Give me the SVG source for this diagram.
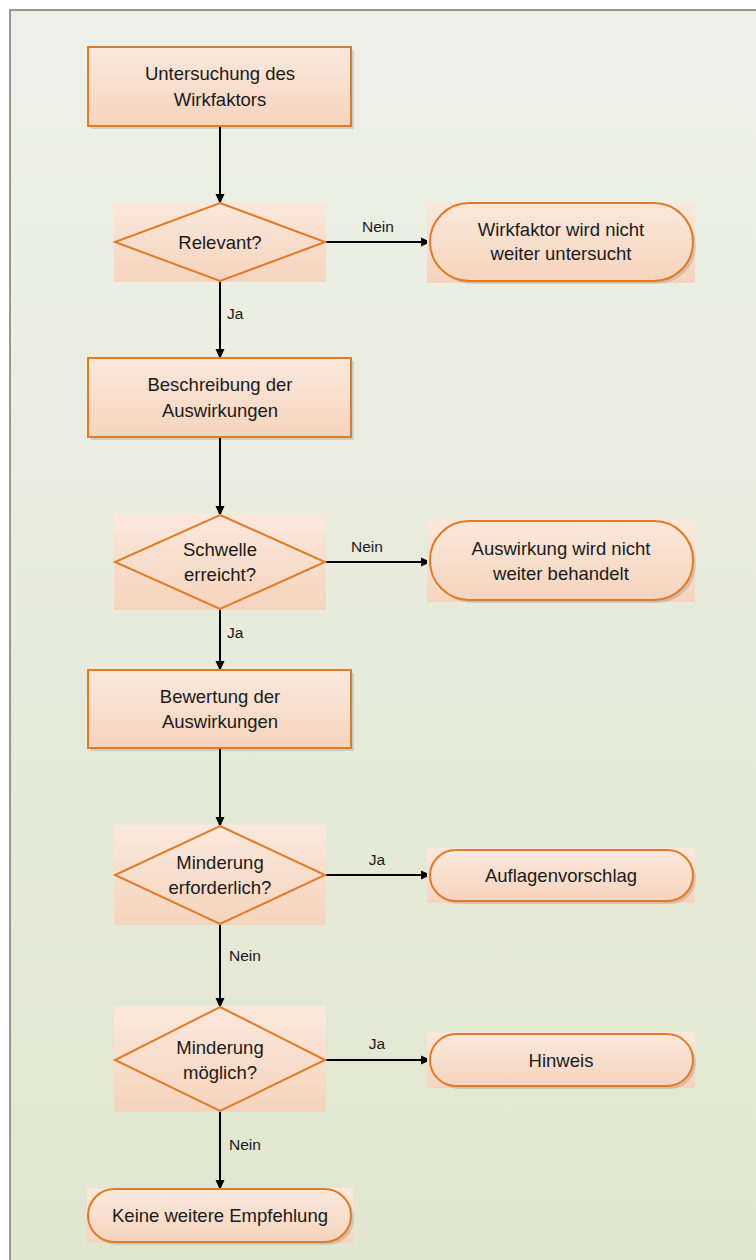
<svg xmlns="http://www.w3.org/2000/svg" width="756" height="1260" viewBox="0 0 756 1260">
<defs>
<linearGradient id="bg" x1="0" y1="0" x2="0" y2="1">
<stop offset="0" stop-color="#eef0e7"/>
<stop offset="1" stop-color="#e1e6cf"/>
</linearGradient>
<linearGradient id="nf" x1="0" y1="0" x2="0" y2="1">
<stop offset="0" stop-color="#fbe8dc"/>
<stop offset="1" stop-color="#f5d4bd"/>
</linearGradient>
<marker id="arr" markerWidth="10" markerHeight="10" refX="9" refY="5" orient="auto" markerUnits="userSpaceOnUse">
<path d="M0,0.5 L10,5 L0,9.5 Z" fill="#000"/>
</marker>
<style>
.bx{fill:url(#nf);stroke:#e07b28;stroke-width:2}
.bgf{fill:url(#nf)}
.dm{fill:none;stroke:#e07b28;stroke-width:2}
.sh{fill:#000;opacity:0.12}
.t{font-family:"Liberation Sans",Arial,sans-serif;font-size:18.5px;fill:#1a1a1a;text-anchor:middle}
.l{font-family:"Liberation Sans",Arial,sans-serif;font-size:15.5px;fill:#1a1a1a}
.c{stroke:#000;stroke-width:2;fill:none;marker-end:url(#arr)}
</style>
</defs>
<rect x="10" y="10" width="760" height="1260" fill="url(#bg)" stroke="#7a7a74" stroke-width="1.5"/>

<g id="connectors">
<line class="c" x1="220" y1="126" x2="220" y2="203"/>
<line class="c" x1="326" y1="242" x2="430" y2="242"/>
<line class="c" x1="220" y1="281" x2="220" y2="358"/>
<line class="c" x1="220" y1="437" x2="220" y2="515"/>
<line class="c" x1="326" y1="562" x2="430" y2="562"/>
<line class="c" x1="220" y1="609" x2="220" y2="670"/>
<line class="c" x1="220" y1="748" x2="220" y2="826"/>
<line class="c" x1="326" y1="875" x2="430" y2="875"/>
<line class="c" x1="220" y1="924" x2="220" y2="1007"/>
<line class="c" x1="326" y1="1060" x2="430" y2="1060"/>
<line class="c" x1="220" y1="1111" x2="220" y2="1189"/>
<text class="l" x="378" y="232" text-anchor="middle">Nein</text>
<text class="l" x="227" y="319">Ja</text>
<text class="l" x="367" y="552" text-anchor="middle">Nein</text>
<text class="l" x="227" y="638">Ja</text>
<text class="l" x="377" y="865" text-anchor="middle">Ja</text>
<text class="l" x="229" y="961">Nein</text>
<text class="l" x="377" y="1049" text-anchor="middle">Ja</text>
<text class="l" x="229" y="1150">Nein</text>
</g>

<g id="n1">
<rect class="sh" x="91" y="50" width="263" height="79"/>
<rect class="bx" x="88" y="47" width="263" height="79"/>
<text class="t" x="220" y="80">Untersuchung des</text>
<text class="t" x="220" y="106">Wirkfaktors</text>
</g>

<g id="d1">
<rect class="bgf" x="114" y="202" width="212" height="80"/>
<polygon class="dm" points="220,203 325,242 220,281 115,242"/>
<text class="t" x="220" y="248.5">Relevant?</text>
</g>

<g id="t1">
<rect class="bgf" x="427" y="202" width="268" height="81"/>
<rect class="sh" x="433" y="206" width="263" height="78" rx="39"/>
<rect class="bx" x="430" y="203" width="263" height="78" rx="39"/>
<text class="t" x="561" y="236">Wirkfaktor wird nicht</text>
<text class="t" x="561" y="260">weiter untersucht</text>
</g>

<g id="n2">
<rect class="sh" x="91" y="361" width="263" height="79"/>
<rect class="bx" x="88" y="358" width="263" height="79"/>
<text class="t" x="220" y="391">Beschreibung der</text>
<text class="t" x="220" y="417">Auswirkungen</text>
</g>

<g id="d2">
<rect class="bgf" x="114" y="514" width="212" height="96"/>
<polygon class="dm" points="220,515 325,562 220,609 115,562"/>
<text class="t" x="220" y="556">Schwelle</text>
<text class="t" x="220" y="581">erreicht?</text>
</g>

<g id="t2">
<rect class="bgf" x="427" y="519" width="268" height="83"/>
<rect class="sh" x="433" y="524" width="263" height="79" rx="39"/>
<rect class="bx" x="430" y="521" width="263" height="79" rx="39"/>
<text class="t" x="561" y="555">Auswirkung wird nicht</text>
<text class="t" x="561" y="580">weiter behandelt</text>
</g>

<g id="n3">
<rect class="sh" x="91" y="673" width="263" height="78"/>
<rect class="bx" x="88" y="670" width="263" height="78"/>
<text class="t" x="220" y="703">Bewertung der</text>
<text class="t" x="220" y="728">Auswirkungen</text>
</g>

<g id="d3">
<rect class="bgf" x="114" y="825" width="212" height="100"/>
<polygon class="dm" points="220,826 325,875 220,924 115,875"/>
<text class="t" x="220" y="868.5">Minderung</text>
<text class="t" x="220" y="894">erforderlich?</text>
</g>

<g id="t3">
<rect class="bgf" x="427" y="848" width="268" height="55"/>
<rect class="sh" x="433" y="853" width="263" height="51" rx="25.5"/>
<rect class="bx" x="430" y="850" width="263" height="51" rx="25.5"/>
<text class="t" x="561" y="882">Auflagenvorschlag</text>
</g>

<g id="d4">
<rect class="bgf" x="114" y="1006" width="212" height="106"/>
<polygon class="dm" points="220,1007 325,1060 220,1111 115,1060"/>
<text class="t" x="220" y="1053.5">Minderung</text>
<text class="t" x="220" y="1079">möglich?</text>
</g>

<g id="t4">
<rect class="bgf" x="427" y="1032" width="268" height="56"/>
<rect class="sh" x="433" y="1037" width="263" height="52" rx="26"/>
<rect class="bx" x="430" y="1034" width="263" height="52" rx="26"/>
<text class="t" x="561" y="1066.5">Hinweis</text>
</g>

<g id="t5">
<rect class="bgf" x="87" y="1188" width="266" height="55"/>
<rect class="sh" x="91" y="1192" width="263" height="53" rx="26.5"/>
<rect class="bx" x="88" y="1189" width="263" height="53" rx="26.5"/>
<text class="t" x="220" y="1222">Keine weitere Empfehlung</text>
</g>
</svg>
